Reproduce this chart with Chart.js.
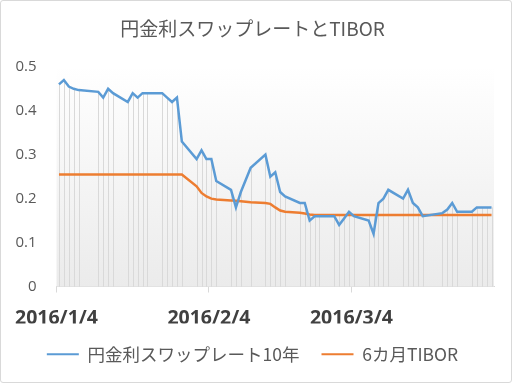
<!DOCTYPE html>
<html><head><meta charset="utf-8">
<script src="https://cdn.jsdelivr.net/npm/chart.js@4/dist/chart.umd.min.js"></script>
<style>
html,body{margin:0;padding:0;background:#fff;}
#wrap{position:absolute;left:0;top:0;width:510px;height:381px;border:1px solid #d9d9d9;border-radius:3px;}
canvas{display:block;}
</style></head>
<body><div id="wrap"><canvas id="c" width="510" height="381"></canvas></div>
<script>
const title = '円金利スワップレートとTIBOR';
const seriesNames = ['円金利スワップレート10年', '6カ月TIBOR'];
const dates = [
 '2016/1/4','2016/1/5','2016/1/6','2016/1/7','2016/1/8',
 '2016/1/12','2016/1/13','2016/1/14','2016/1/15',
 '2016/1/18','2016/1/19','2016/1/20','2016/1/21','2016/1/22',
 '2016/1/25','2016/1/26','2016/1/27','2016/1/28','2016/1/29',
 '2016/2/1','2016/2/2','2016/2/3','2016/2/4','2016/2/5',
 '2016/2/8','2016/2/9','2016/2/10','2016/2/12',
 '2016/2/15','2016/2/16','2016/2/17','2016/2/18','2016/2/19',
 '2016/2/22','2016/2/23','2016/2/24','2016/2/25','2016/2/26',
 '2016/2/29','2016/3/1','2016/3/2','2016/3/3','2016/3/4',
 '2016/3/7','2016/3/8','2016/3/9','2016/3/10','2016/3/11',
 '2016/3/14','2016/3/15','2016/3/16','2016/3/17','2016/3/18',
 '2016/3/22','2016/3/23','2016/3/24','2016/3/25',
 '2016/3/28','2016/3/29','2016/3/30','2016/3/31','2016/4/1'
];
const swap10y = [
 0.46,0.47,0.455,0.45,0.447,
 0.443,0.43,0.45,0.44,
 0.42,0.44,0.43,0.44,0.44,
 0.44,0.43,0.42,0.43,0.33,
 0.29,0.31,0.29,0.29,0.24,
 0.22,0.18,0.215,0.27,
 0.30,0.25,0.26,0.215,0.205,
 0.19,0.19,0.15,0.16,0.16,
 0.16,0.14,0.155,0.17,0.16,
 0.15,0.12,0.19,0.20,0.22,
 0.20,0.22,0.19,0.18,0.16,
 0.167,0.175,0.19,0.17,
 0.17,0.18,0.18,0.18,0.18
];
const tibor6m = [
 0.255,0.255,0.255,0.255,0.255,
 0.255,0.255,0.255,0.255,
 0.255,0.255,0.255,0.255,0.255,
 0.255,0.255,0.255,0.255,0.255,
 0.228,0.213,0.205,0.200,0.198,
 0.196,0.195,0.194,0.192,
 0.190,0.188,0.180,0.173,0.170,
 0.168,0.166,0.164,0.163,0.163,
 0.163,0.163,0.163,0.163,0.163,
 0.163,0.163,0.163,0.163,0.163,
 0.163,0.163,0.163,0.163,0.163,
 0.163,0.163,0.163,0.163,
 0.163,0.163,0.163,0.163,0.163
];
const xTickDates = ['2016/1/4','2016/2/4','2016/3/4'];
const yTicks = [0,0.1,0.2,0.3,0.4,0.5];

const base = new Date(2016,0,4);
function dayOf(s){const p=s.split('/').map(Number);return Math.round((new Date(p[0],p[1]-1,p[2])-base)/86400000);}
function labelOf(d){const t=new Date(2016,0,4+d);return t.getFullYear()+'/'+(t.getMonth()+1)+'/'+t.getDate();}
const xs = dates.map(s=>dayOf(s)+0.5);
const lastDay = dayOf(dates[dates.length-1])+1;

const bgPlugin = {
  id:'bg',
  beforeDatasetsDraw(chart){
    const {ctx, chartArea:a} = chart;
    const g = ctx.createLinearGradient(0,a.top,0,a.bottom);
    g.addColorStop(0,'#ffffff'); g.addColorStop(1,'#ebebeb');
    ctx.save(); ctx.fillStyle=g; ctx.fillRect(a.left,a.top,a.right-a.left,a.bottom-a.top);
    ctx.strokeStyle='#d9d9d9'; ctx.lineWidth=1;
    chart.data.datasets.forEach((ds,i)=>{
      chart.getDatasetMeta(i).data.forEach(pt=>{
        const x=Math.round(pt.x)+0.5;
        ctx.beginPath(); ctx.moveTo(x,pt.y); ctx.lineTo(x,a.bottom); ctx.stroke();
      });
    });
    ctx.restore();
  }
};

new Chart(document.getElementById('c'),{
  type:'line',
  data:{datasets:[
    {label:seriesNames[0],data:xs.map((x,i)=>({x:x,y:swap10y[i]})),borderColor:'#5B9BD5',backgroundColor:'#5B9BD5',borderWidth:2.5,pointRadius:0,tension:0},
    {label:seriesNames[1],data:xs.map((x,i)=>({x:x,y:tibor6m[i]})),borderColor:'#ED7D31',backgroundColor:'#ED7D31',borderWidth:2.5,pointRadius:0,tension:0}
  ]},
  options:{
    responsive:false,animation:false,
    layout:{padding:{left:10,right:17,top:0,bottom:9}},
    plugins:{
      title:{display:true,text:title,color:'#595959',font:{family:'"Noto Sans CJK JP"',size:19,weight:'normal'},padding:{top:16,bottom:27}},
      legend:{position:'bottom',labels:{color:'#595959',font:{family:'"Noto Sans CJK JP"',size:17.5},boxWidth:32,boxHeight:2,padding:22,
        generateLabels(chart){return chart.data.datasets.map((d,i)=>({text:d.label,fillStyle:d.borderColor,strokeStyle:d.borderColor,lineWidth:0,datasetIndex:i,fontColor:'#595959'}));}}},
      tooltip:{enabled:false}
    },
    scales:{
      x:{type:'linear',min:0,max:lastDay,
        afterBuildTicks(s){s.ticks=xTickDates.map(d=>({value:dayOf(d)}));},
        afterFit(s){s.height=37;},
        ticks:{callback:v=>labelOf(v),color:'#404040',font:{family:'"Open Sans"',size:19.5,weight:'bold'},padding:14,maxRotation:0,autoSkip:false},
        grid:{display:true,drawOnChartArea:false,drawTicks:true,tickLength:6,color:'#d9d9d9'},
        border:{display:true,color:'#d9d9d9'}
      },
      y:{min:0,max:0.5,
        afterBuildTicks(s){s.ticks=yTicks.map(v=>({value:v}));},
        afterFit(s){s.width=43;},
        ticks:{callback:v=>v===0?'0':v.toFixed(1),color:'#595959',font:{family:'"Open Sans"',size:15},padding:20},
        grid:{display:false,drawTicks:false},border:{display:false}
      }
    }
  },
  plugins:[bgPlugin]
});
</script></body></html>
